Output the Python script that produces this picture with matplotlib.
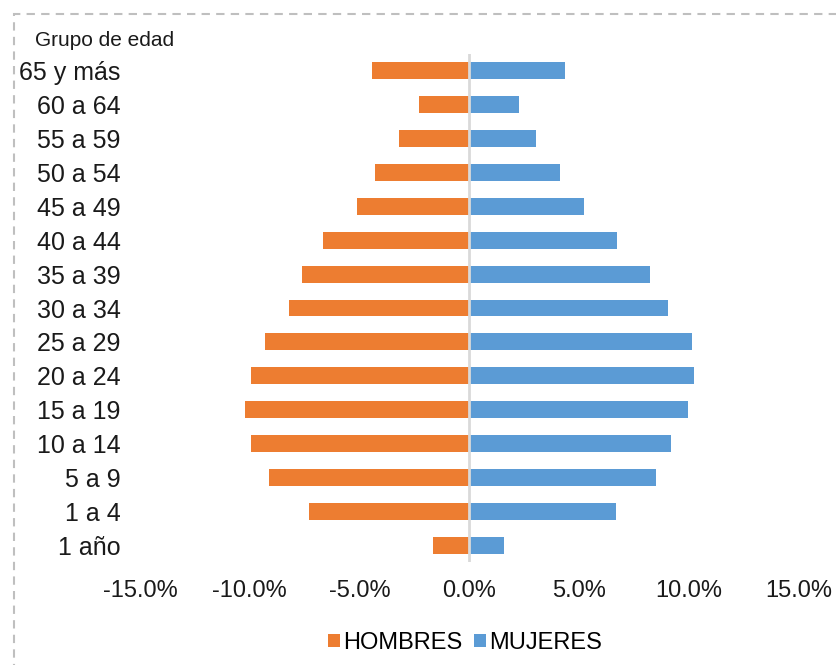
import matplotlib.pyplot as plt
from matplotlib.patches import Rectangle
from matplotlib.ticker import FuncFormatter

plt.rcParams['font.family'] = ['Liberation Sans', 'DejaVu Sans']

# Age groups, youngest first (bottom of the pyramid)
grupos = ["1 año", "1 a 4", "5 a 9", "10 a 14", "15 a 19", "20 a 24", "25 a 29",
          "30 a 34", "35 a 39", "40 a 44", "45 a 49", "50 a 54", "55 a 59",
          "60 a 64", "65 y más"]

# Share of population (%) per group
hombres = [1.65, 7.30, 9.11, 9.95, 10.22, 9.95, 9.29, 8.20, 7.64, 6.67, 5.12, 4.29, 3.22, 2.31, 4.43]
mujeres = [1.57, 6.69, 8.47, 9.18, 9.94, 10.24, 10.12, 9.05, 8.23, 6.72, 5.21, 4.12, 3.04, 2.24, 4.36]

color_h = '#ED7D31'
color_m = '#5B9BD5'

fig = plt.figure(figsize=(8.37, 6.65), dpi=100)
ax = fig.add_axes([140 / 837, 1 - 562 / 665, 659 / 837, 508 / 665])

pos = range(len(grupos))
ax.barh(pos, [-v for v in hombres], height=0.5, color=color_h, label='HOMBRES')
ax.barh(pos, mujeres, height=0.5, color=color_m, label='MUJERES')

ax.set_xlim(-15, 15)
ax.set_ylim(-0.5, len(grupos) - 0.5)
ax.set_xticks([-15, -10, -5, 0, 5, 10, 15])
ax.xaxis.set_major_formatter(FuncFormatter(lambda v, p: f"{v:.1f}%"))
ax.set_yticks(list(pos))
ax.set_yticklabels(grupos)
ax.tick_params(axis='both', length=0, colors='#1a1a1a')
ax.tick_params(axis='y', pad=14, labelsize=18)
ax.tick_params(axis='x', pad=13, labelsize=17)

for s in ax.spines.values():
    s.set_visible(False)
ax.axvline(0, color='#d9d9d9', lw=2, zorder=3)

fig.text(35 / 837, 1 - 40 / 665, "Grupo de edad", fontsize=15, va='center',
         ha='left', color='#1a1a1a')

fig.legend(loc='center', bbox_to_anchor=(465 / 837, 1 - 643 / 665), ncol=2,
           frameon=False, fontsize=17, handlelength=0.5, handleheight=0.5,
           handletextpad=0.12, columnspacing=0.5)

# dashed frame around the chart area
fig.patches.append(Rectangle((14 / 837, -0.1), 1.2, 1 - 14 / 665 + 0.1,
                             transform=fig.transFigure, fill=False,
                             edgecolor='#bfbfbf', lw=1.5, ls=(0, (4, 3))))

fig.savefig('out.png', dpi=100)
